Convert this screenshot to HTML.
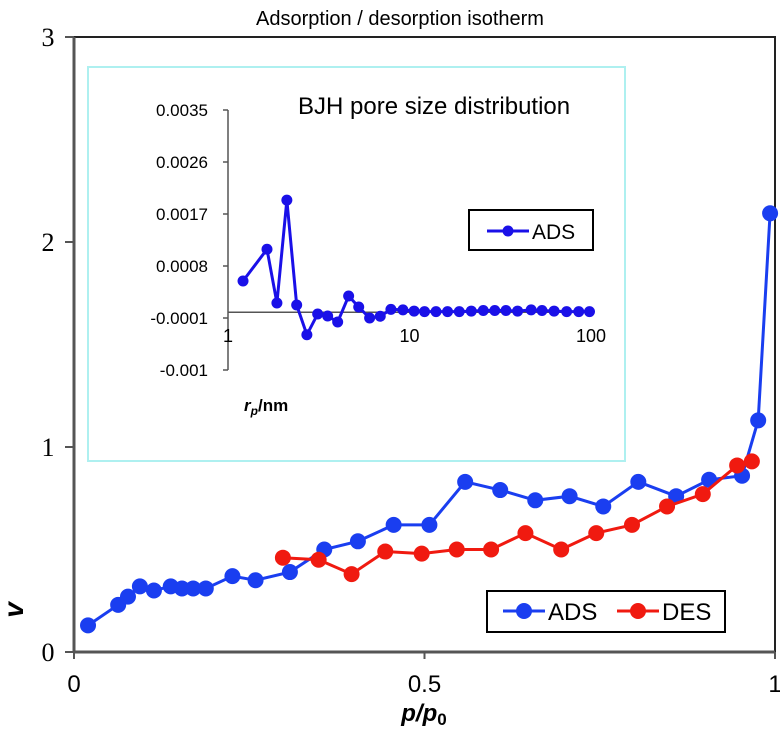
<!DOCTYPE html>
<html><head><meta charset="utf-8"><style>
body{margin:0;background:#fff;}
svg{display:block;}
</style></head><body>
<svg id="chart" width="780" height="731" xmlns="http://www.w3.org/2000/svg"></svg>
<script>
const adsX=[0.02,0.063,0.077,0.094,0.114,0.138,0.154,0.17,0.188,0.226,0.259,0.308,0.357,0.405,0.456,0.507,0.558,0.608,0.658,0.707,0.755,0.805,0.859,0.906,0.953,0.976,0.993];
const adsY=[0.13,0.23,0.27,0.32,0.30,0.32,0.31,0.31,0.31,0.37,0.35,0.39,0.50,0.54,0.62,0.62,0.83,0.79,0.74,0.76,0.71,0.83,0.76,0.84,0.86,1.13,2.14];
const desX=[0.298,0.349,0.396,0.444,0.496,0.546,0.595,0.644,0.695,0.745,0.796,0.846,0.897,0.946,0.967];
const desY=[0.46,0.45,0.38,0.49,0.48,0.50,0.50,0.58,0.50,0.58,0.62,0.71,0.77,0.91,0.93];
const mainYTicks=[0,1,2,3];
const mainXTicks=[0,0.5,1];
const mainXTickLabels=["0","0.5","1"];
const bjhR=[1.21,1.64,1.86,2.11,2.39,2.72,3.12,3.54,4.02,4.62,5.25,6.03,6.9,7.9,9.2,10.6,12.1,14.0,16.2,18.8,21.9,25.5,29.5,34.0,39.4,46.8,53.7,62.6,73.4,85.6,98.1];
const bjhV=[0.00054,0.00109,0.00016,0.00194,0.000125,-0.00039,-0.00003,-0.000065,-0.00017,0.00028,0.00009,-0.0001,-0.00007,0.00005,0.00004,0.00002,0.00001,0.00001,0.00001,0.00001,0.00002,0.00003,0.00003,0.00003,0.00002,0.00004,0.00003,0.00002,0.00001,0.00001,0.00001];
const insetYTicks=[0.0035,0.0026,0.0017,0.0008,-0.0001,-0.001];
const insetYTickLabels=["0.0035","0.0026","0.0017","0.0008","-0.0001","-0.001"];
const insetXTicks=[1,10,100];

const NS="http://www.w3.org/2000/svg";
const svg=document.getElementById('chart');
function el(tag,attrs,parent){const e=document.createElementNS(NS,tag);for(const k in attrs)e.setAttribute(k,attrs[k]);(parent||svg).appendChild(e);return e;}
function txt(s,attrs,parent){const e=el('text',attrs,parent);e.textContent=s;return e;}

const X0=74,X1=775,Y0=652,Y1=37;
const mx=v=>X0+v*(X1-X0);
const my=v=>Y0-v/3*(Y0-Y1);
const SANS='Liberation Sans, sans-serif';
const NARROW='Liberation Sans Narrow, Liberation Sans, sans-serif';

let t=txt("Adsorption / desorption isotherm",{x:400,y:25,'font-family':SANS,'font-size':20,'text-anchor':'middle',fill:'#000'});



let frame=el('rect',{x:X0,y:Y1,width:X1-X0,height:Y0-Y1,fill:'none',stroke:'#222','stroke-width':2});


let la=el('line',{x1:X0,y1:Y1,x2:X0,y2:Y0,stroke:'#555','stroke-width':3});


let ba=el('line',{x1:X0,y1:Y0,x2:X1,y2:Y0,stroke:'#555','stroke-width':3});



mainYTicks.forEach(v=>{
  let l=el('line',{x1:X0-9,y1:my(v),x2:X0,y2:my(v),stroke:'#555','stroke-width':2});
  
  
  let s=txt(String(v),{x:48,y:my(v)+9,'font-family':'Liberation Serif, serif','font-size':26,'text-anchor':'middle',fill:'#000'});
  
  
});
mainXTicks.forEach((v,i)=>{
  let l=el('line',{x1:mx(v),y1:Y0,x2:mx(v),y2:Y0+7,stroke:'#555','stroke-width':2});
  
  
  let s=txt(mainXTickLabels[i],{x:mx(v),y:692,'font-family':NARROW,'font-size':24,'text-anchor':'middle',fill:'#000'});
  
  
});
let yl=txt("v",{x:16,y:617,'font-family':SANS,'font-size':28,'font-weight':'bold','font-style':'italic','text-anchor':'middle',transform:'rotate(-90 16 610)'});


let xl=el('text',{x:424,y:721,'font-family':SANS,'font-size':24,'font-weight':'bold','font-style':'italic','text-anchor':'middle'});
xl.innerHTML='p/p<tspan font-size="17" font-style="normal" dy="4">0</tspan>';



function series(xs,ys,fx,fy,color,r,w,name){
  const g=el('g',{});
  
  
  el('polyline',{points:xs.map((x,i)=>fx(x)+','+fy(ys[i])).join(' '),fill:'none',stroke:color,'stroke-width':w},g);
  xs.forEach((x,i)=>{
    const c=el('circle',{cx:fx(x),cy:fy(ys[i]),r:r,fill:color},g);
    
    
  });
}

const ib=el('rect',{x:88,y:67,width:537,height:394,fill:'#fff',stroke:'#aef0f0','stroke-width':2});


const IX=228,IDEC=181.5;
const ix=r=>IX+Math.log10(r)*IDEC;
const iy=v=>318-(v+0.0001)/0.0009*52;
let iya=el('line',{x1:IX,y1:iy(0.0035),x2:IX,y2:iy(-0.001),stroke:'#555','stroke-width':1.5});


let ixa=el('line',{x1:IX,y1:iy(0),x2:ix(100),y2:iy(0),stroke:'#555','stroke-width':1.5});


insetYTicks.forEach((v,i)=>{
  let l=el('line',{x1:IX-5,y1:iy(v),x2:IX,y2:iy(v),stroke:'#555','stroke-width':1.5});
  
  
  let s=txt(insetYTickLabels[i],{x:208,y:iy(v)+6,'font-family':SANS,'font-size':17,'text-anchor':'end'});
  
  
});
insetXTicks.forEach(v=>{
  let s=txt(String(v),{x:ix(v),y:342,'font-family':SANS,'font-size':18,'text-anchor':'middle'});
  
  
});
let it=txt("BJH pore size distribution",{x:298,y:114,'font-family':SANS,'font-size':24});


let ixl=el('text',{x:244,y:411,'font-family':SANS,'font-size':17,'font-weight':'bold'});
ixl.innerHTML='<tspan font-style="italic">r</tspan><tspan font-style="italic" font-size="12" dy="4">p</tspan><tspan dy="-4">/nm</tspan>';


series(bjhR,bjhV,ix,iy,'#1a10e8',5.5,3,'bjh-ads-series');
const ilg=el('g',{});


el('rect',{x:469,y:210,width:124,height:40,fill:'#fff',stroke:'#000','stroke-width':2},ilg);
el('line',{x1:487,y1:231,x2:529,y2:231,stroke:'#1a10e8','stroke-width':3},ilg);
el('circle',{cx:508,cy:231,r:5.5,fill:'#1a10e8'},ilg);
txt("ADS",{x:532,y:239,'font-family':SANS,'font-size':21},ilg);

series(adsX,adsY,mx,my,'#1a3ef0',8,3,'ads-series');
series(desX,desY,mx,my,'#f01a10',8,3,'des-series');

const lg=el('g',{});


el('rect',{x:487,y:591,width:238,height:41,fill:'#fff',stroke:'#000','stroke-width':2},lg);
el('line',{x1:503,y1:611,x2:545,y2:611,stroke:'#1a3ef0','stroke-width':3},lg);
el('circle',{cx:524,cy:611,r:8,fill:'#1a3ef0'},lg);
txt("ADS",{x:548,y:620,'font-family':NARROW,'font-size':24},lg);
el('line',{x1:617,y1:611,x2:659,y2:611,stroke:'#f01a10','stroke-width':3},lg);
el('circle',{cx:638,cy:611,r:8,fill:'#f01a10'},lg);
txt("DES",{x:662,y:620,'font-family':NARROW,'font-size':24},lg);
</script>
</body></html>
